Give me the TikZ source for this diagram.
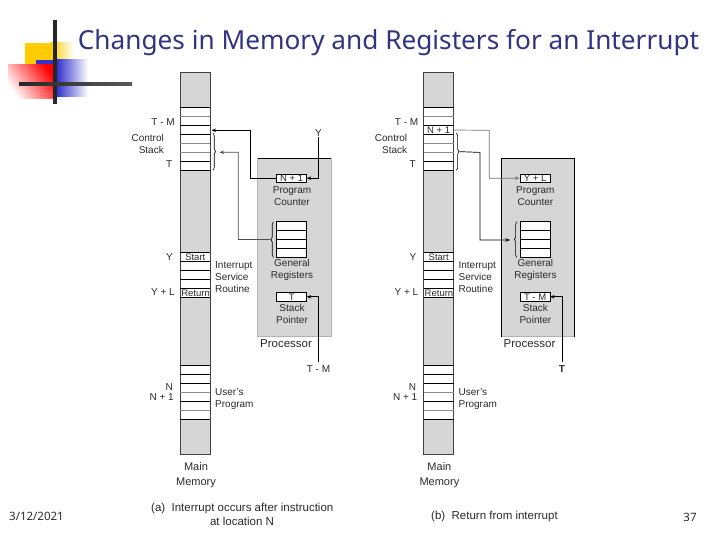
\documentclass[tikz,border=0pt]{standalone}
\usepackage{fontspec}
\setmainfont{Liberation Sans}
\newfontfamily\titlefont{Noto Sans}
\usetikzlibrary{arrows.meta,decorations.pathreplacing}
\definecolor{mygray}{HTML}{D6D6D6}
\definecolor{tblue}{HTML}{333380}
\definecolor{ink}{HTML}{2A2A2A}
\definecolor{logoy}{HTML}{FFCC00}
\definecolor{logob}{HTML}{3333CC}
\tikzset{
 lbl/.style={font=\fontsize{10}{11}\selectfont,text=ink,inner sep=0pt,text height=7.2pt,text depth=0pt},
 lblb/.style={lbl,font=\fontsize{11.5}{12}\selectfont,text height=8pt},
 cell/.style={draw=black,line width=.8pt,fill=white,minimum width=29.8pt,inner sep=0pt,outer sep=0pt,font=\fontsize{9.5}{10}\selectfont,text=ink,text height=6.8pt,text depth=0pt},
 lite/.style={draw=black!45,line width=.7pt},
 mem/.style={draw=black!75,line width=.9pt,fill=mygray},
 proc/.style={fill=mygray,draw=black!30,line width=.6pt},
 conn/.style={draw=black,line width=.7pt,-{Stealth[length=4.5pt,width=3.5pt]}},
 connl/.style={conn,draw=black!55},
 plain/.style={draw=black,line width=.7pt},
 brc/.style={draw=black,line width=.6pt,decorate,decoration={brace,amplitude=2.5pt}},
}
% #1 prefix, #2 x offset, #3 PC text, #4 SP text, #5 stack cell text
\newcommand{\panel}[5]{
 \begin{scope}[shift={(#2,0)}]
 \path[mem] (180.4,72.6) rectangle (210.2,454.4);
 \fill[white] (180.4,107.7) rectangle (210.2,170.3);
 \fill[white] (180.4,252.7) rectangle (210.2,297.7);
 \fill[white] (180.4,365.3) rectangle (210.2,419);
 \draw[mem,fill=none] (180.4,72.6) rectangle (210.2,454.4);
 \foreach \y in {107.7,125.3,134.3,161,170.3,252.7,261.7,270.7,279.7,288.7,297.7,365.3,374.3,383.3,401.3,419}
   \draw[plain] (180.4,\y) -- (210.2,\y);
 \foreach \y in {116,143.3,152.3,392.3,410}
   \draw[lite] (180.4,\y) -- (210.2,\y);
 \node[cell,draw=none,fill=none,minimum height=8pt] (#1cell) at (195.3,130) {#5};
 \node[lbl,font=\fontsize{9.5}{10}\selectfont] at (195.3,257) {Start};
 \node[lbl,font=\fontsize{9.5}{10}\selectfont] at (195.6,293) {Return};
 \node[lbl,anchor=east] at (175,121.5) {T - M};
 \node[lbl,anchor=east] at (164,138) {Control};
 \node[lbl,anchor=east] at (164,149.5) {Stack};
 \node[lbl,anchor=east] at (172.5,164) {T};
 \node[lbl,anchor=east] at (173,257) {Y};
 \node[lbl,anchor=east] at (175,292) {Y + L};
 \node[lbl,anchor=west] at (215,265) {Interrupt};
 \node[lbl,anchor=west] at (215,277) {Service};
 \node[lbl,anchor=west] at (215,289) {Routine};
 \node[lbl,anchor=east] at (173,387) {N};
 \node[lbl,anchor=east] at (174,397) {N + 1};
 \node[lbl,anchor=west] at (215,392) {User's};
 \node[lbl,anchor=west] at (215,404) {Program};
 \node[lblb,font=\fontsize{11}{12}\selectfont] at (196,466) {Main};
 \node[lblb,font=\fontsize{11}{12}\selectfont] at (196,481) {Memory};
 \path[proc] (257.7,158) rectangle (331.3,336.7);
 \draw[plain,line width=.9pt] (257.7,158) -- (331.3,158);
 \node[cell,anchor=north west,minimum width=30pt,minimum height=8.4pt] (#1pc) at (276.7,174) {#3};
 \node[lbl] at (292,189.5) {Program};
 \node[lbl] at (292,202) {Counter};
 \foreach \y/\n in {221.7/1,230.7/2,239.5/3,248.4/4}
  \node[cell,anchor=north west,minimum width=30pt,minimum height=8.9pt] (#1gr\n) at (276.7,\y) {};
 \node[lbl] at (292,263) {General};
 \node[lbl] at (292,275) {Registers};
 \node[cell,anchor=north west,minimum width=30pt,minimum height=9pt] (#1sp) at (276.7,292.3) {#4};
 \node[lbl] at (292,308) {Stack};
 \node[lbl] at (292,320) {Pointer};
 \node[lblb,anchor=west] at (260,343) {Processor};
 \draw[brc] (213,133) -- coordinate[midway,xshift=3pt] (#1sb) (213,170.3);
 \draw[brc] (273.5,257.5) -- coordinate[midway,xshift=-3pt] (#1gb) (273.5,221.7);
 \coordinate (#1sp0) at (318.5,362);
 \coordinate (#1bend1) at (318.5,296.8);
 \draw[conn] (#1sp0) -- (#1bend1) -- (#1sp.east);
 \end{scope}
}
\begin{document}
\begin{tikzpicture}[x=1pt,y=-1pt]
\useasboundingbox (0,0) rectangle (720,540);
% logo
\shade[left color=logoy,right color=white] (50,43) rectangle (74,66);
\fill[logoy] (25,43) rectangle (50,66);
\fill[logob] (36,60) rectangle (57,97);
\shade[left color=logob,right color=white] (57,60) rectangle (88,97);
\shade[top color=red,middle color=red!35,bottom color=white,shading angle=-55] (8,65) rectangle (55,99);
\draw[line width=4pt,black!85] (55,20) -- (55,104);
\shade[left color=black!85,right color=black!65] (19,82.2) rectangle (132,85.8);
\fill[red!60!black] (48,88.5) circle (.5) (42,96) circle (.5) (45,92) circle (.4);
\node[font=\titlefont\fontsize{26.2}{30}\selectfont,text=tblue,inner sep=0pt,anchor=center] (title) at (388.5,42.5) {Changes in Memory and Registers for an Interrupt};

\panel{a}{0}{N + 1}{T}{}
\panel{b}{243.4}{Y + L}{T - M}{N + 1}
\draw[plain,line width=.9pt] (501.1,158) -- (501.1,336.7) (574.7,158) -- (574.7,336.7);

% panel a connectors
\node[lbl] (ay) at (318.5,133) {Y};
\coordinate (ap1) at (250.7,178.2);
\coordinate (ap2) at (250.7,130.3);
\coordinate (ap3) at (211.5,130.3);
\draw[conn] (apc.west) -- (ap1) -- (ap2) -- (ap3);
\coordinate (ay1) at (318.5,178.2);
\draw[conn] (ay.south) -- (ay1) -- (apc.east);
\coordinate (ag1) at (238.3,239.5);
\coordinate (ag2) at (238.3,152.3);
\coordinate (ag3) at (219.5,152.3);
\draw[conn,draw=black!70] (agb) -- (ag1) -- (ag2) -- (ag3);
\node[lbl] (atm) at (318.5,369) {T - M};

% panel b connectors
\coordinate (bp1) at (489.3,130.3);
\coordinate (bp2) at (489.3,178.2);
\coordinate (bp3) at (519.4,178.2);
\draw[connl] (bcell.east) -- (bp1) -- (bp2) -- (bp3);
\coordinate (bg1) at (480,152.4);
\coordinate (bg2) at (480,240);
\coordinate (bg3) at (510,240);
\draw[conn] (bsb) -- (bg1) -- (bg2) -- (bg3);
\node[lbl,font=\fontsize{10}{11}\selectfont\bfseries] (bt) at (561.9,369) {T};

% captions
\node[lblb,anchor=west] at (151,507) {(a)\ \ Interrupt occurs after instruction};
\node[lblb] at (242,521.5) {at location N};
\node[lblb,anchor=west] at (431,515) {(b)\ \ Return from interrupt};
\node[font=\titlefont\fontsize{11.5}{13}\selectfont,text=ink,inner sep=0pt,anchor=west] at (9,516) {3/12/2021};
\node[font=\titlefont\fontsize{11.5}{13}\selectfont,text=ink,inner sep=0pt] at (690,517) {37};
\end{tikzpicture}
\end{document}
